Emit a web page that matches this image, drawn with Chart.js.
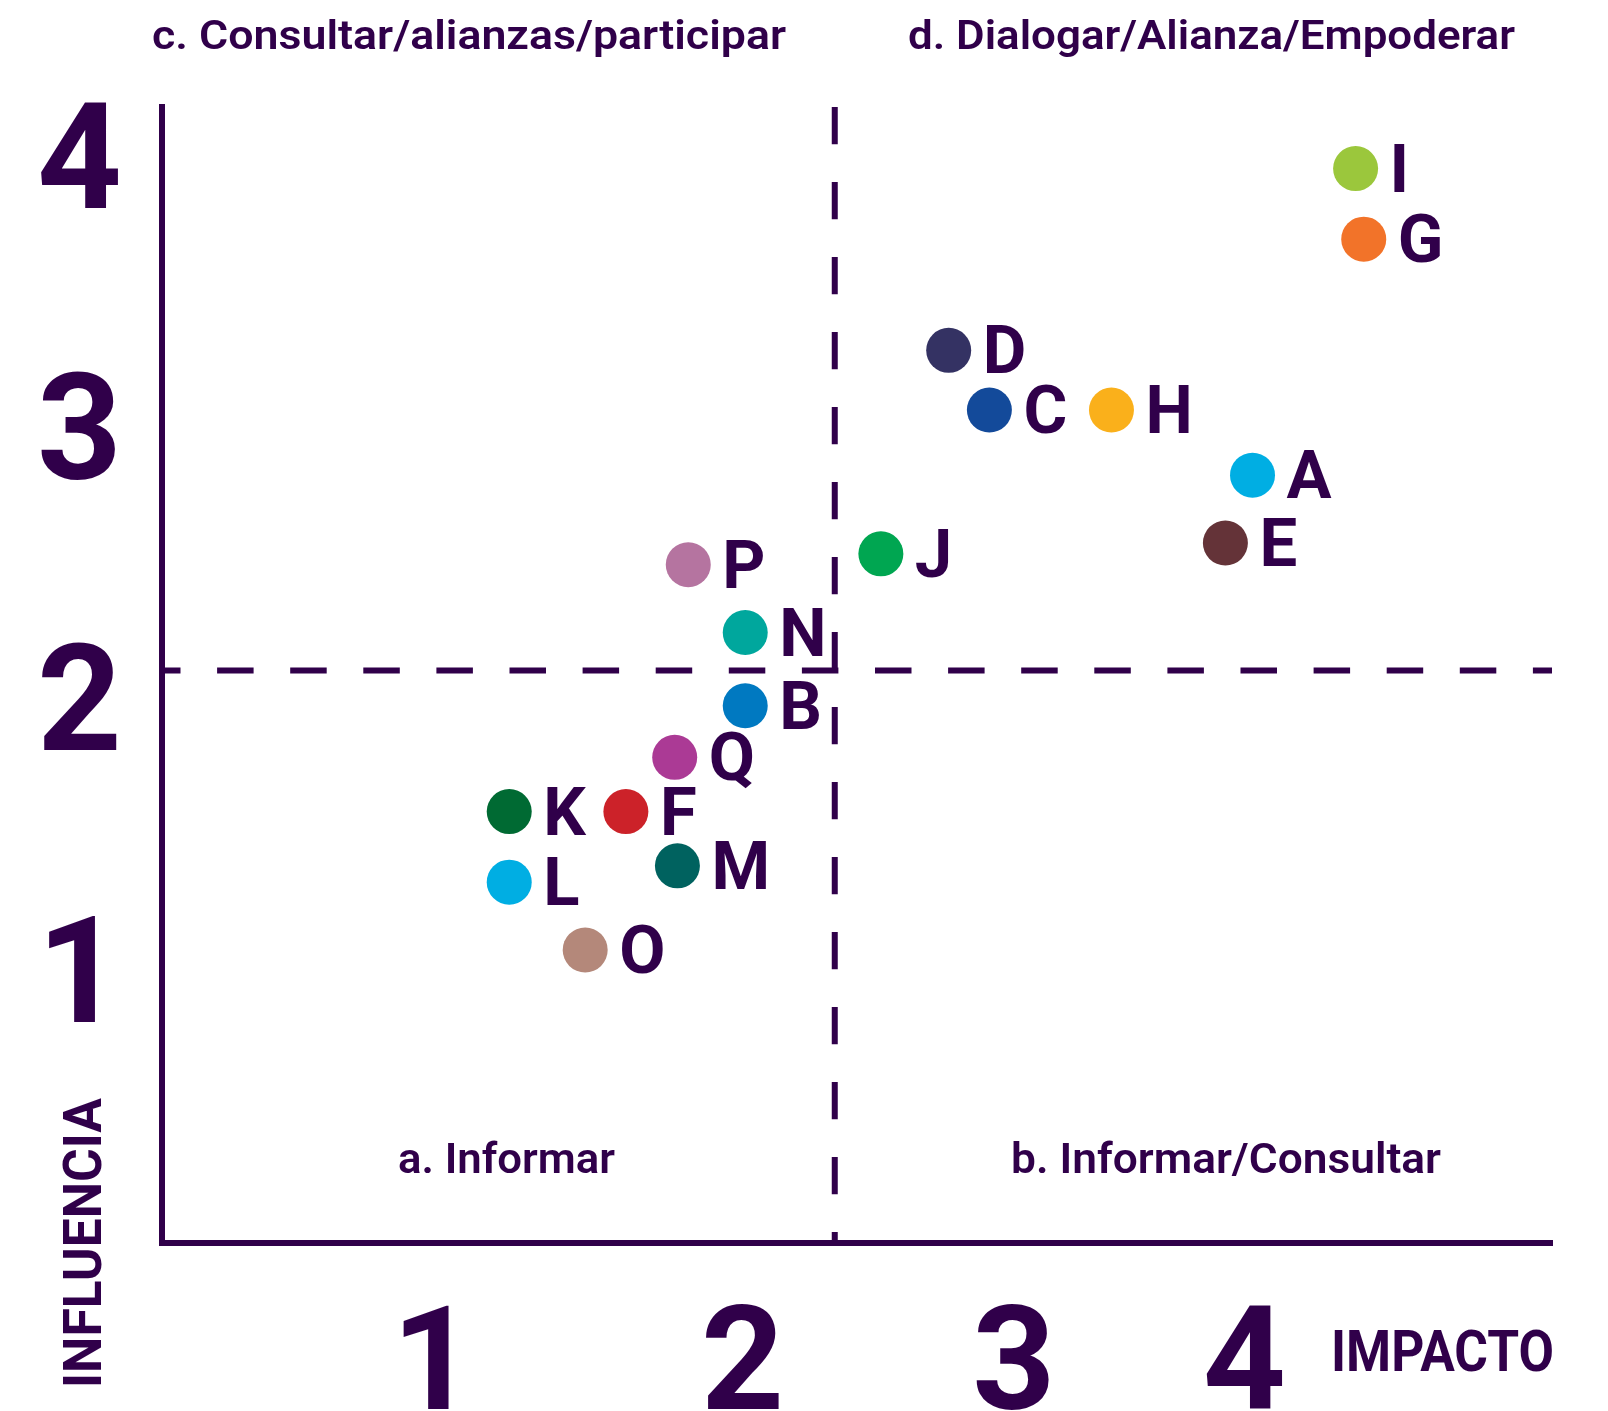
<!DOCTYPE html>
<html>
<head>
<meta charset="utf-8">
<script src="https://cdn.jsdelivr.net/npm/chart.js@4.4.0/dist/chart.umd.min.js"></script>
<style>
  html, body { margin: 0; padding: 0; background: #fff; }
  canvas { display: block; }
</style>
</head>
<body>
<canvas id="myChart" width="1608" height="1411"></canvas>
<script>
// actores (letra), impacto (x) e influencia (y)
var letras     = ['A', 'B', 'C', 'D', 'E', 'F', 'G', 'H', 'I', 'J', 'K', 'L', 'M', 'N', 'O', 'P', 'Q'];
var impacto    = [4.02, 2.15, 3.05, 2.90, 3.92, 1.71, 4.43, 3.50, 4.40, 2.65, 1.28, 1.28, 1.90, 2.15, 1.56, 1.94, 1.89];
var influencia = [2.83, 1.98, 3.07, 3.29, 2.58, 1.59, 3.70, 3.07, 3.96, 2.54, 1.59, 1.33, 1.39, 2.25, 1.08, 2.50, 1.79];
var colores    = ['#00aee3', '#0079c1', '#134a9a', '#343263', '#643338', '#cc2229', '#f27329', '#fab01b', '#9bc73c',
                  '#00a651', '#006a33', '#00aee3', '#00625f', '#00a79d', '#b4887a', '#b574a0', '#ab3a95'];

var xTicks = [1, 2.14, 3.14, 3.99];
var xTickLabels = ['1', '2', '3', '4'];
var yTicks = [1, 2, 3, 4];
var yTickLabels = ['1', '2', '3', '4'];

var corteX = 2.48;   // linea vertical de cuadrantes
var corteY = 2.11;   // linea horizontal de cuadrantes

var cuadrantes = ['a. Informar', 'b. Informar/Consultar', 'c. Consultar/alianzas/participar', 'd. Dialogar/Alianza/Empoderar'];
var tituloX = 'IMPACTO';
var tituloY = 'INFLUENCIA';

var morado = '#30004a';

// texto ajustado a un ancho
function fitText(ctx, text, x, y, w, angle) {
    ctx.save();
    ctx.translate(x, y);
    if (angle) ctx.rotate(angle);
    var m = ctx.measureText(text).width;
    ctx.scale(w / m, 1);
    ctx.fillText(text, 0, 0);
    ctx.restore();
}

var lineasCuadrantes = {
    id: 'lineasCuadrantes',
    beforeDatasetsDraw: function (chart) {
        var ctx = chart.ctx, a = chart.chartArea;
        var px = chart.scales.x.getPixelForValue(corteX);
        var py = chart.scales.y.getPixelForValue(corteY);
        ctx.save();
        ctx.strokeStyle = morado;
        ctx.lineWidth = 6;
        ctx.setLineDash([37.3, 37.7]);
        ctx.beginPath();
        ctx.moveTo(px, a.top);
        ctx.lineTo(px, a.bottom);
        ctx.stroke();
        ctx.setLineDash([36.5, 36.6]);
        ctx.lineDashOffset = 18;
        ctx.beginPath();
        ctx.moveTo(a.left, py);
        ctx.lineTo(a.right, py);
        ctx.stroke();
        ctx.restore();
    }
};

var etiquetas = {
    id: 'etiquetas',
    afterDatasetsDraw: function (chart) {
        var ctx = chart.ctx;
        var meta = chart.getDatasetMeta(0);
        ctx.save();
        ctx.fillStyle = morado;
        ctx.font = 'bold 67px Roboto';
        ctx.textAlign = 'left';
        ctx.textBaseline = 'alphabetic';
        meta.data.forEach(function (pt, i) {
            ctx.fillText(letras[i], pt.x + 34, pt.y + 23);
        });
        ctx.restore();
    }
};

var textos = {
    id: 'textos',
    afterDraw: function (chart) {
        var ctx = chart.ctx;
        ctx.save();
        ctx.fillStyle = morado;
        ctx.textAlign = 'left';
        ctx.textBaseline = 'alphabetic';
        ctx.font = '600 41px Roboto';
        fitText(ctx, cuadrantes[2], 152, 49, 634);
        fitText(ctx, cuadrantes[3], 908, 49, 607);
        ctx.font = '600 42px Roboto';
        fitText(ctx, cuadrantes[0], 398, 1173, 217);
        fitText(ctx, cuadrantes[1], 1011, 1173, 430);
        ctx.font = 'bold 57px Roboto';
        fitText(ctx, tituloX, 1331, 1371, 223);
        ctx.font = 'bold 53px Roboto';
        fitText(ctx, tituloY, 101, 1388, 290, -Math.PI / 2);
        // esquina de los ejes
        ctx.fillRect(159, 1240, 6, 6);
        ctx.restore();
    }
};

var ctx = document.getElementById('myChart').getContext('2d');

var chart = new Chart(ctx, {
    type: 'scatter',
    data: {
        datasets: [{
            label: 'Actores',
            data: letras.map(function (l, i) { return { x: impacto[i], y: influencia[i] }; }),
            backgroundColor: colores,
            pointBackgroundColor: colores,
            pointBorderWidth: 0,
            pointRadius: 22.5,
            pointHoverRadius: 22.5
        }]
    },
    options: {
        responsive: false,
        animation: false,
        events: [],
        layout: { padding: { top: 107, right: 56, left: 0, bottom: 0 } },
        plugins: {
            legend: { display: false },
            tooltip: { enabled: false }
        },
        scales: {
            x: {
                type: 'linear',
                min: 0,
                max: 5.124,
                afterBuildTicks: function (s) { s.ticks = xTicks.map(function (v) { return { value: v }; }); },
                afterFit: function (s) {
                    s.height = 168;
                    s.paddingLeft = 0; s.paddingRight = 0;
                },
                grid: { display: false, drawTicks: false },
                border: { display: true, color: morado, width: 6 },
                ticks: {
                    autoSkip: false,
                    maxRotation: 0,
                    padding: 43,
                    color: morado,
                    font: { family: 'Roboto', weight: 'bold', size: 145 },
                    callback: function (v, i) { return xTickLabels[i]; }
                }
            },
            y: {
                type: 'linear',
                min: 0,
                max: 4.187,
                afterBuildTicks: function (s) { s.ticks = yTicks.map(function (v) { return { value: v }; }); },
                afterFit: function (s) {
                    s.width = 162;
                    s.paddingTop = 0; s.paddingBottom = 0;
                },
                grid: { display: false, drawTicks: false },
                border: { display: true, color: morado, width: 6 },
                ticks: {
                    autoSkip: false,
                    crossAlign: 'center',
                    padding: 40,
                    labelOffset: 13,
                    color: morado,
                    font: { family: 'Roboto', weight: 'bold', size: 148 },
                    callback: function (v, i) { return yTickLabels[i]; }
                }
            }
        }
    },
    plugins: [lineasCuadrantes, etiquetas, textos]
});
</script>
</body>
</html>
